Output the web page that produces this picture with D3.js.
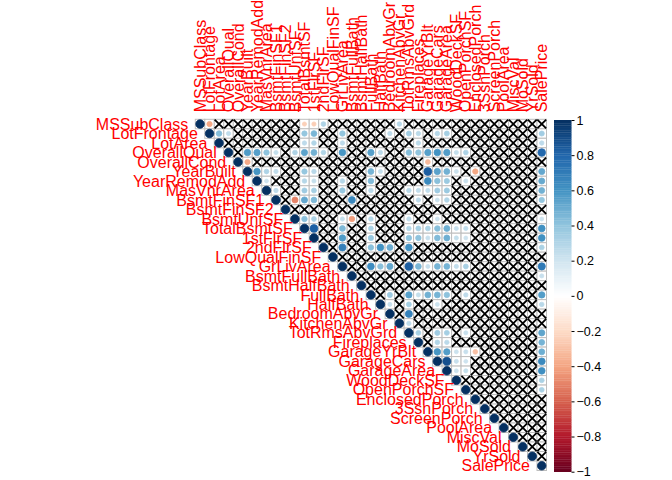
<!DOCTYPE html>
<html><head><meta charset="utf-8">
<script src="https://cdn.jsdelivr.net/npm/d3@7/dist/d3.min.js"></script>
<style>
body{margin:0;background:#fff}
svg text{font-family:"Liberation Sans",Arial,Helvetica,sans-serif}
</style>
</head><body>
<svg id="chart" width="672" height="480"></svg>
<script>
// ---- data ----
const variables = ["MSSubClass","LotFrontage","LotArea","OverallQual","OverallCond","YearBuilt","YearRemodAdd","MasVnrArea","BsmtFinSF1","BsmtFinSF2","BsmtUnfSF","TotalBsmtSF","1stFlrSF","2ndFlrSF","LowQualFinSF","GrLivArea","BsmtFullBath","BsmtHalfBath","FullBath","HalfBath","BedroomAbvGr","KitchenAbvGr","TotRmsAbvGrd","Fireplaces","GarageYrBlt","GarageCars","GarageArea","WoodDeckSF","OpenPorchSF","EnclosedPorch","3SsnPorch","ScreenPorch","PoolArea","MiscVal","MoSold","YrSold","SalePrice"];

// significant correlations (upper triangle); every other off-diagonal pair is crossed out
const significantPairs = [
 ["MSSubClass","LotFrontage",-0.39],["MSSubClass","TotalBsmtSF",-0.24],["MSSubClass","1stFlrSF",-0.25],["MSSubClass","2ndFlrSF",0.31],["MSSubClass","KitchenAbvGr",0.28],
 ["LotFrontage","LotArea",0.43],["LotFrontage","OverallQual",0.25],["LotFrontage","TotalBsmtSF",0.39],["LotFrontage","1stFlrSF",0.46],["LotFrontage","GrLivArea",0.40],["LotFrontage","BedroomAbvGr",0.26],["LotFrontage","TotRmsAbvGrd",0.35],["LotFrontage","Fireplaces",0.27],["LotFrontage","GarageCars",0.29],["LotFrontage","GarageArea",0.34],["LotFrontage","SalePrice",0.35],
 ["LotArea","TotalBsmtSF",0.26],["LotArea","1stFlrSF",0.30],["LotArea","GrLivArea",0.26],["LotArea","Fireplaces",0.27],["LotArea","SalePrice",0.26],
 ["OverallQual","YearBuilt",0.57],["OverallQual","YearRemodAdd",0.55],["OverallQual","MasVnrArea",0.41],["OverallQual","BsmtFinSF1",0.24],["OverallQual","BsmtUnfSF",0.31],["OverallQual","TotalBsmtSF",0.54],["OverallQual","1stFlrSF",0.48],["OverallQual","2ndFlrSF",0.30],["OverallQual","GrLivArea",0.59],["OverallQual","FullBath",0.55],["OverallQual","HalfBath",0.27],["OverallQual","TotRmsAbvGrd",0.43],["OverallQual","Fireplaces",0.40],["OverallQual","GarageYrBlt",0.55],["OverallQual","GarageCars",0.60],["OverallQual","GarageArea",0.56],["OverallQual","WoodDeckSF",0.24],["OverallQual","OpenPorchSF",0.31],["OverallQual","SalePrice",0.79],
 ["OverallCond","YearBuilt",-0.38],["OverallCond","GarageYrBlt",-0.32],
 ["YearBuilt","YearRemodAdd",0.59],["YearBuilt","MasVnrArea",0.31],["YearBuilt","BsmtFinSF1",0.25],["YearBuilt","TotalBsmtSF",0.39],["YearBuilt","1stFlrSF",0.28],["YearBuilt","FullBath",0.47],["YearBuilt","HalfBath",0.24],["YearBuilt","GarageYrBlt",0.83],["YearBuilt","GarageCars",0.54],["YearBuilt","GarageArea",0.48],["YearBuilt","WoodDeckSF",0.22],["YearBuilt","EnclosedPorch",-0.39],["YearBuilt","SalePrice",0.52],
 ["YearRemodAdd","MasVnrArea",0.21],["YearRemodAdd","TotalBsmtSF",0.29],["YearRemodAdd","1stFlrSF",0.24],["YearRemodAdd","GrLivArea",0.29],["YearRemodAdd","FullBath",0.44],["YearRemodAdd","GarageYrBlt",0.64],["YearRemodAdd","GarageCars",0.42],["YearRemodAdd","GarageArea",0.37],["YearRemodAdd","OpenPorchSF",0.23],["YearRemodAdd","SalePrice",0.51],
 ["MasVnrArea","BsmtFinSF1",0.26],["MasVnrArea","TotalBsmtSF",0.36],["MasVnrArea","1stFlrSF",0.34],["MasVnrArea","GrLivArea",0.39],["MasVnrArea","FullBath",0.28],["MasVnrArea","TotRmsAbvGrd",0.28],["MasVnrArea","Fireplaces",0.25],["MasVnrArea","GarageYrBlt",0.25],["MasVnrArea","GarageCars",0.36],["MasVnrArea","GarageArea",0.37],["MasVnrArea","SalePrice",0.48],
 ["BsmtFinSF1","BsmtUnfSF",-0.50],["BsmtFinSF1","TotalBsmtSF",0.52],["BsmtFinSF1","1stFlrSF",0.45],["BsmtFinSF1","BsmtFullBath",0.65],["BsmtFinSF1","Fireplaces",0.26],["BsmtFinSF1","GarageCars",0.22],["BsmtFinSF1","GarageArea",0.30],["BsmtFinSF1","SalePrice",0.39],
 ["BsmtUnfSF","TotalBsmtSF",0.42],["BsmtUnfSF","1stFlrSF",0.32],["BsmtUnfSF","GrLivArea",0.24],["BsmtUnfSF","BsmtFullBath",-0.42],["BsmtUnfSF","FullBath",0.29],["BsmtUnfSF","TotRmsAbvGrd",0.25],["BsmtUnfSF","GarageCars",0.21],["BsmtUnfSF","SalePrice",0.21],
 ["TotalBsmtSF","1stFlrSF",0.82],["TotalBsmtSF","GrLivArea",0.45],["TotalBsmtSF","FullBath",0.32],["TotalBsmtSF","TotRmsAbvGrd",0.29],["TotalBsmtSF","Fireplaces",0.34],["TotalBsmtSF","GarageYrBlt",0.32],["TotalBsmtSF","GarageCars",0.43],["TotalBsmtSF","GarageArea",0.49],["TotalBsmtSF","WoodDeckSF",0.23],["TotalBsmtSF","OpenPorchSF",0.25],["TotalBsmtSF","SalePrice",0.61],
 ["1stFlrSF","GrLivArea",0.57],["1stFlrSF","FullBath",0.38],["1stFlrSF","TotRmsAbvGrd",0.41],["1stFlrSF","Fireplaces",0.41],["1stFlrSF","GarageYrBlt",0.23],["1stFlrSF","GarageCars",0.44],["1stFlrSF","GarageArea",0.49],["1stFlrSF","WoodDeckSF",0.24],["1stFlrSF","OpenPorchSF",0.21],["1stFlrSF","SalePrice",0.61],
 ["2ndFlrSF","GrLivArea",0.69],["2ndFlrSF","FullBath",0.42],["2ndFlrSF","HalfBath",0.61],["2ndFlrSF","BedroomAbvGr",0.50],["2ndFlrSF","TotRmsAbvGrd",0.62],["2ndFlrSF","SalePrice",0.32],
 ["GrLivArea","FullBath",0.63],["GrLivArea","HalfBath",0.42],["GrLivArea","BedroomAbvGr",0.52],["GrLivArea","TotRmsAbvGrd",0.83],["GrLivArea","Fireplaces",0.46],["GrLivArea","GarageYrBlt",0.23],["GrLivArea","GarageCars",0.47],["GrLivArea","GarageArea",0.47],["GrLivArea","WoodDeckSF",0.25],["GrLivArea","OpenPorchSF",0.33],["GrLivArea","SalePrice",0.71],
 ["BsmtFullBath","SalePrice",0.23],
 ["FullBath","BedroomAbvGr",0.36],["FullBath","TotRmsAbvGrd",0.55],["FullBath","Fireplaces",0.24],["FullBath","GarageYrBlt",0.48],["FullBath","GarageCars",0.47],["FullBath","GarageArea",0.41],["FullBath","OpenPorchSF",0.26],["FullBath","SalePrice",0.56],
 ["HalfBath","BedroomAbvGr",0.23],["HalfBath","TotRmsAbvGrd",0.34],["HalfBath","GarageCars",0.22],["HalfBath","SalePrice",0.28],
 ["BedroomAbvGr","TotRmsAbvGrd",0.68],
 ["KitchenAbvGr","TotRmsAbvGrd",0.26],
 ["TotRmsAbvGrd","Fireplaces",0.33],["TotRmsAbvGrd","GarageCars",0.36],["TotRmsAbvGrd","GarageArea",0.34],["TotRmsAbvGrd","OpenPorchSF",0.23],["TotRmsAbvGrd","SalePrice",0.53],
 ["Fireplaces","GarageCars",0.30],["Fireplaces","GarageArea",0.27],["Fireplaces","SalePrice",0.47],
 ["GarageYrBlt","GarageCars",0.59],["GarageYrBlt","GarageArea",0.56],["GarageYrBlt","WoodDeckSF",0.22],["GarageYrBlt","OpenPorchSF",0.23],["GarageYrBlt","EnclosedPorch",-0.30],["GarageYrBlt","SalePrice",0.49],
 ["GarageCars","GarageArea",0.88],["GarageCars","WoodDeckSF",0.23],["GarageCars","OpenPorchSF",0.21],["GarageCars","SalePrice",0.64],
 ["GarageArea","WoodDeckSF",0.22],["GarageArea","OpenPorchSF",0.24],["GarageArea","SalePrice",0.62],
 ["WoodDeckSF","SalePrice",0.32],
 ["OpenPorchSF","SalePrice",0.32]
];

const legendTicks = [-1,-0.8,-0.6,-0.4,-0.2,0,0.2,0.4,0.6,0.8,1];
const paletteStops = ["#67001F","#B2182B","#D6604D","#F4A582","#FDDBC7","#FFFFFF","#D1E5F0","#92C5DE","#4393C3","#2166AC","#053061"];

// ---- layout ----
const svg = d3.select("#chart");
const gridLeft = 195.3, gridTop = 119.3, gridSize = 351.2;
const x = d3.scaleBand().domain(variables).range([gridLeft, gridLeft + gridSize]);
const y = d3.scaleBand().domain(variables).range([gridTop, gridTop + gridSize]);
const bw = x.bandwidth();
const color = d3.scaleLinear()
  .domain(d3.range(paletteStops.length).map(i => -1 + 2 * i / (paletteStops.length - 1)))
  .range(paletteStops).interpolate(d3.interpolateRgb).clamp(true);

const sig = new Map(significantPairs.map(d => [d[0] + "|" + d[1], d[2]]));
const cells = [];
variables.forEach((r, i) => {
  variables.forEach((c, j) => {
    if (j < i) return;
    let v = (i === j) ? 1 : sig.get(r + "|" + c);
    cells.push({row: r, col: c, value: v === undefined ? null : v});
  });
});

// grid
svg.append("g").selectAll("rect").data(cells).join("rect")
  .attr("x", d => x(d.col)).attr("y", d => y(d.row))
  .attr("width", bw).attr("height", bw)
  .attr("fill", "#fff").attr("stroke", "#BEBEBE").attr("stroke-width", 1);

// circles
const rad = d => 0.45 * bw * Math.sqrt(Math.abs(d.value));
svg.append("g").selectAll("circle").data(cells.filter(d => d.value !== null)).join("circle")
  .attr("cx", d => x(d.col) + bw / 2).attr("cy", d => y(d.row) + bw / 2)
  .attr("r", rad)
  .attr("fill", d => color(d.value)).attr("stroke", d => color(d.value)).attr("stroke-width", 0.8);

// crosses for insignificant cells
const h = 4.4;
svg.append("g").selectAll("path").data(cells.filter(d => d.value === null)).join("path")
  .attr("d", d => {
    const cx = x(d.col) + bw / 2, cy = y(d.row) + bw / 2;
    return `M${cx-h},${cy-h}L${cx+h},${cy+h}M${cx-h},${cy+h}L${cx+h},${cy-h}`;
  })
  .attr("stroke", "#000").attr("stroke-width", 1.8).attr("fill", "none");

// row labels (left of diagonal)
svg.append("g").selectAll("text").data(variables).join("text")
  .attr("x", d => x(d) - 7).attr("y", d => y(d) + bw / 2).attr("dy", "0.35em")
  .attr("text-anchor", "end").attr("fill", "#FF0000").attr("font-size", "16px")
  .text(d => d);

// column labels (top, rotated)
svg.append("g").selectAll("text").data(variables).join("text")
  .attr("transform", d => `translate(${x(d) + bw / 2},${gridTop - 7}) rotate(-90)`)
  .attr("dy", "0.35em")
  .attr("text-anchor", "start").attr("fill", "#FF0000").attr("font-size", "16px")
  .text(d => d);

// colour legend
const lgX = 554, lgW = 17.5, lgTop = 120, lgBot = 471.7;
const ly = d3.scaleLinear().domain([-1, 1]).range([lgBot, lgTop]);
const steps = d3.range(200).map(i => -1 + (i + 0.5) * 2 / 200);
svg.append("g").selectAll("rect").data(steps).join("rect")
  .attr("x", lgX).attr("width", lgW)
  .attr("y", d => ly(d + 0.005)).attr("height", Math.abs(ly(0) - ly(0.01)) + 0.3)
  .attr("fill", d => color(d));
const axis = d3.axisRight(ly).tickValues(legendTicks).tickSize(3).tickPadding(2)
  .tickFormat(d => d3.format("")(+d.toFixed(1)));
const ag = svg.append("g").attr("transform", `translate(${lgX + lgW},0)`).call(axis);
ag.select(".domain").remove();
ag.selectAll("text").attr("font-size", "12.5px").attr("fill", "#000")
  .attr("font-family", '"Liberation Sans",Arial,sans-serif');
ag.selectAll("line").attr("stroke", "#000");
</script>
</body></html>
